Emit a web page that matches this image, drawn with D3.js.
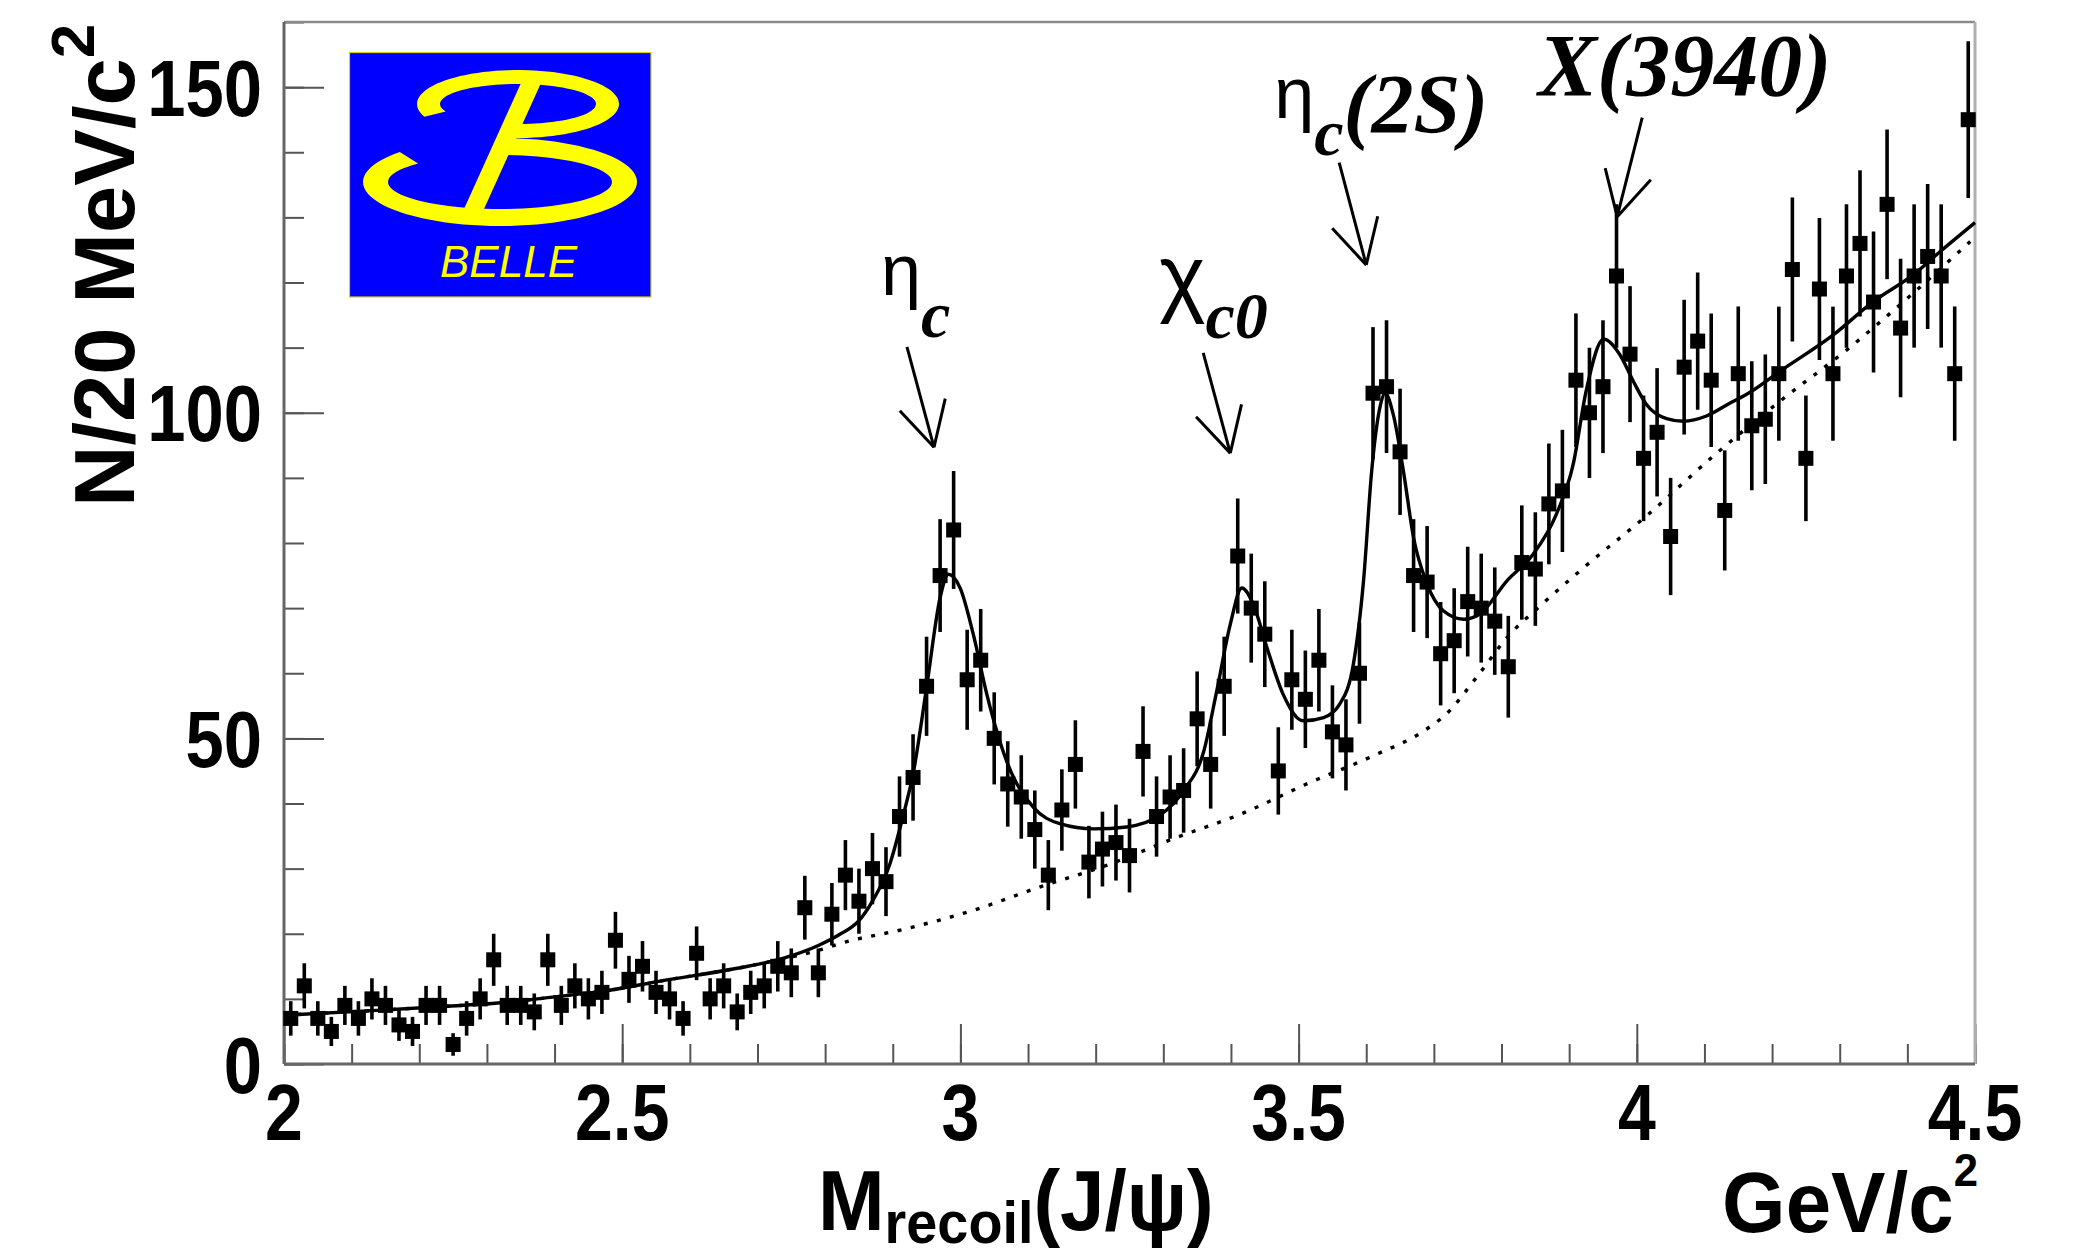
<!DOCTYPE html>
<html>
<head>
<meta charset="utf-8">
<script src="https://cdn.jsdelivr.net/npm/d3@7"></script>
<style>
  html, body { margin: 0; padding: 0; background: #ffffff; }
  svg { display: block; }
</style>
</head>
<body>
<svg id="chart" width="2074" height="1257"></svg>
<script>
// ---- data -------------------------------------------------------------
// recoil-mass histogram: 125 bins of 20 MeV/c^2 starting at 2.0 GeV/c^2
const massLow = 2.0;
const binWidth = 0.02;
const counts = [
  7, 12, 7, 5, 9, 7, 10, 9, 6, 5, 9, 9, 3, 7, 10, 16, 9, 9, 8, 16, 9,
  12, 10, 11, 19, 13, 15, 11, 10, 7, 17, 10, 12, 8, 11, 12, 15, 14, 24, 14, 23, 29, 25, 30, 28,
  38, 44, 58, 75, 82, 59, 62, 50, 43, 41, 36, 29, 39, 46, 31, 33, 34, 32, 48, 38, 41,
  42, 53, 46, 58, 78, 70, 66, 45, 59, 56, 62, 51, 49, 60, 103, 104, 94, 75, 74, 63, 65, 71,
  70, 68, 61, 77, 76, 86, 88, 105, 100, 104, 121, 109, 93, 97, 81, 107, 111, 105, 85,
  106, 98, 99, 106, 122, 93, 119, 106, 121, 126, 117, 132, 113, 121, 124, 121, 106, 145
];

// total fit (signal peaks + background)
const fitMass = [
  2.00, 2.13, 2.23, 2.32, 2.40, 2.48, 2.56, 2.67, 2.74, 2.79, 2.82, 2.85, 2.87, 2.896, 2.916,
  2.930, 2.950, 2.970, 2.982, 3.000, 3.019, 3.039, 3.068, 3.108, 3.147, 3.197, 3.246, 3.295,
  3.330, 3.360, 3.379, 3.399, 3.416, 3.433, 3.453, 3.477, 3.507, 3.537, 3.561, 3.581, 3.596,
  3.608, 3.620, 3.628, 3.640, 3.655, 3.670, 3.690, 3.714, 3.744, 3.768, 3.808, 3.847, 3.881,
  3.906, 3.925, 3.951, 3.975, 3.995, 4.014, 4.044, 4.069, 4.103, 4.138, 4.165, 4.212, 4.291,
  4.350, 4.409, 4.449, 4.500
];
const fitValue = [
  7.5, 8.2, 8.8, 9.4, 10.3, 11.3, 12.8, 14.7, 16.3, 18.2, 19.8, 22.0, 25.0, 30.8, 38.4,
  44.5, 57.8, 71.6, 75.2, 73.0, 66.0, 56.8, 46.6, 39.4, 36.9, 36.1, 36.4, 38.2,
  42.0, 48.1, 57.3, 67.5, 73.1, 70.6, 64.0, 56.8, 52.7, 53.2, 55.3, 61.4, 74.2,
  91.0, 100.7, 103.0, 99.7, 91.0, 80.8, 73.7, 69.6, 68.3, 69.1, 74.2, 78.3, 84.4,
  92.1, 103.3, 111.3, 108.9, 104.8, 101.3, 99.1, 98.7, 99.5, 101.5, 103.0, 106.4, 112.0,
  117.1, 121.2, 124.8, 129.2
];

// background component of the fit
const bkgMass = [
  2.00, 2.13, 2.23, 2.32, 2.40, 2.48, 2.56, 2.67, 2.74, 2.795, 2.822, 2.921, 3.019, 3.118,
  3.216, 3.315, 3.415, 3.514, 3.612, 3.686, 3.721, 3.761, 3.810, 3.860, 3.919, 4.017, 4.116,
  4.212, 4.311, 4.409, 4.493
];
const bkgValue = [
  7.5, 8.2, 8.8, 9.4, 10.3, 11.3, 12.8, 14.7, 16.2, 17.6, 18.5, 20.8, 23.6, 27.2,
  30.5, 34.6, 38.4, 43.1, 47.4, 51.2, 54.0, 59.1, 65.7, 70.6, 76.0, 84.4, 93.6,
  101.8, 109.7, 118.4, 126.3
];

// axes
const xTickValues = [2, 2.5, 3, 3.5, 4, 4.5];
const xTickLabels = ["2", "2.5", "3", "3.5", "4", "4.5"];
const yTickValues = [0, 50, 100, 150];
const yTickLabels = ["0", "50", "100", "150"];

// peak annotations: arrow tail and tip in (mass, entries)
const peakNames = ["ηc", "χc0", "ηc(2S)", "X(3940)"];
const arrowTail = [[2.921, 110.1], [3.359, 109.2], [3.560, 138.4], [4.008, 145.3]];
const arrowTip  = [[2.961, 94.7], [3.399, 93.8], [3.600, 122.7], [3.971, 130.1]];

// ---- drawing ----------------------------------------------------------
const svg = d3.select("#chart");
const X0 = 284, X1 = 1975, Y0 = 1064, Y1 = 22;
const x = d3.scaleLinear().domain([2, 4.5]).range([X0, X1]);
const y = d3.scaleLinear().domain([0, 160]).range([Y0, Y1]);

const SANS = "'Liberation Sans', Arial, Helvetica, sans-serif";
const SERIF = "'Liberation Serif', 'Times New Roman', serif";

// Belle logo
const logo = svg.append("g");
logo.append("rect")
  .attr("x", 349.5).attr("y", 52.5).attr("width", 301.5).attr("height", 244.5)
  .attr("fill", "#0000ff").attr("stroke", "#d8d800").attr("stroke-width", 1.2);

function ringArc(cx, cy, rxo, ryo, rxi, ryi, t0, t1) {
  const n = 80, pts = [];
  for (let i = 0; i <= n; i++) {
    const t = (t0 + (t1 - t0) * i / n) * Math.PI / 180;
    pts.push([cx + rxo * Math.cos(t), cy + ryo * Math.sin(t)]);
  }
  for (let i = n; i >= 0; i--) {
    const t = (t0 + (t1 - t0) * i / n) * Math.PI / 180;
    pts.push([cx + rxi * Math.cos(t), cy + ryi * Math.sin(t)]);
  }
  return "M" + pts.map(p => p[0].toFixed(1) + "," + p[1].toFixed(1)).join("L") + "Z";
}
logo.append("path").attr("d", ringArc(518, 104, 101, 34, 78, 20, 158, 452)).attr("fill", "#ffff00");
logo.append("path").attr("d", ringArc(500, 182, 137, 44, 112, 27, 223, -90)).attr("fill", "#ffff00");
logo.append("path").attr("d", "M521,83L541,83L484,209L464,209Z").attr("fill", "#ffff00");
logo.append("text")
  .attr("x", 440).attr("y", 277)
  .attr("font-family", SANS).attr("font-style", "italic").attr("font-size", 44)
  .attr("fill", "#ffff00").text("BELLE");

// ticks (drawn inward)
const tickStyle = g => {
  g.select(".domain").remove();
  g.selectAll("line").attr("stroke", "#555").attr("stroke-width", 2);
  g.selectAll("text").remove();
};
svg.append("g").attr("transform", `translate(0,${Y0})`)
  .call(d3.axisBottom(x).tickValues(d3.range(2, 4.501, 0.1)).tickSizeInner(-20).tickSizeOuter(0))
  .call(tickStyle);
svg.append("g").attr("transform", `translate(0,${Y0})`)
  .call(d3.axisBottom(x).tickValues(xTickValues).tickSizeInner(-40).tickSizeOuter(0))
  .call(tickStyle);
svg.append("g").attr("transform", `translate(${X0},0)`)
  .call(d3.axisLeft(y).tickValues(d3.range(0, 160.1, 10)).tickSizeInner(-20).tickSizeOuter(0))
  .call(tickStyle);
svg.append("g").attr("transform", `translate(${X0},0)`)
  .call(d3.axisLeft(y).tickValues(yTickValues).tickSizeInner(-40).tickSizeOuter(0))
  .call(tickStyle);

// frame
svg.append("line").attr("x1", X0).attr("x2", X1).attr("y1", Y1).attr("y2", Y1)
  .attr("stroke", "#8a8a8a").attr("stroke-width", 2.5);
svg.append("line").attr("x1", X1).attr("x2", X1).attr("y1", Y1).attr("y2", Y0)
  .attr("stroke", "#b0b0b0").attr("stroke-width", 3);
svg.append("line").attr("x1", X0).attr("x2", X0).attr("y1", Y1).attr("y2", Y0)
  .attr("stroke", "#666").attr("stroke-width", 3);
svg.append("line").attr("x1", X0).attr("x2", X1).attr("y1", Y0).attr("y2", Y0)
  .attr("stroke", "#666").attr("stroke-width", 3);

// tick labels
svg.append("g").selectAll("text").data(xTickValues).join("text")
  .attr("transform", d => `translate(${x(d)},1140) scale(0.85,1)`)
  .attr("text-anchor", "middle")
  .attr("font-family", SANS).attr("font-weight", "bold").attr("font-size", 80)
  .attr("fill", "#000")
  .text((d, i) => xTickLabels[i]);
svg.append("g").selectAll("text").data(yTickValues).join("text")
  .attr("transform", d => `translate(262,${y(d) + 28.5}) scale(0.86,1)`)
  .attr("text-anchor", "end")
  .attr("font-family", SANS).attr("font-weight", "bold").attr("font-size", 80)
  .attr("fill", "#000")
  .text((d, i) => yTickLabels[i]);

// axis titles
const yTitle = svg.append("text")
  .attr("transform", "translate(134,507) rotate(-90)")
  .attr("font-family", SANS).attr("font-weight", "bold").attr("font-size", 85).attr("fill", "#000");
yTitle.append("tspan").text("N/20 MeV/c");
yTitle.append("tspan").attr("font-size", 62).attr("dy", -40).text("2");

const xTitle = svg.append("text")
  .attr("transform", "translate(818,1230) scale(0.93,1)")
  .attr("font-family", SANS).attr("font-weight", "bold").attr("font-size", 86).attr("fill", "#000");
xTitle.append("tspan").text("M");
xTitle.append("tspan").attr("font-size", 60).attr("dy", 13).text("recoil");
xTitle.append("tspan").attr("dy", -13).text("(J/ψ)");

const unitTitle = svg.append("text")
  .attr("transform", "translate(1978,1232) scale(0.95,1)")
  .attr("text-anchor", "end")
  .attr("font-family", SANS).attr("font-weight", "bold").attr("font-size", 86).attr("fill", "#000");
unitTitle.append("tspan").text("GeV/c");
unitTitle.append("tspan").attr("font-size", 46).attr("dy", -46).text("2");

// fit curves
const plot = svg.append("g");
plot.append("path")
  .datum(bkgMass.map((m, i) => [m, bkgValue[i]]))
  .attr("d", d3.line().x(d => x(d[0])).y(d => y(d[1])).curve(d3.curveMonotoneX))
  .attr("fill", "none").attr("stroke", "#000").attr("stroke-width", 3.4)
  .attr("stroke-dasharray", "4 9.5");
plot.append("path")
  .datum(fitMass.map((m, i) => [m, fitValue[i]]))
  .attr("d", d3.line().x(d => x(d[0])).y(d => y(d[1])).curve(d3.curveMonotoneX))
  .attr("fill", "none").attr("stroke", "#000").attr("stroke-width", 3.4);

// data points with Poisson errors
const points = counts.map((n, i) => ({ m: massLow + binWidth * (i + 0.5), n: n, e: Math.sqrt(n) }));
plot.append("g").selectAll("line").data(points).join("line")
  .attr("x1", d => x(d.m)).attr("x2", d => x(d.m))
  .attr("y1", d => y(d.n - d.e)).attr("y2", d => y(d.n + d.e))
  .attr("stroke", "#000").attr("stroke-width", 3.6);
plot.append("g").selectAll("rect").data(points).join("rect")
  .attr("x", d => x(d.m) - 7.5).attr("y", d => y(d.n) - 7.5)
  .attr("width", 15).attr("height", 15).attr("fill", "#000");

// peak annotations
const runStyle = {
  greek: { family: SANS, size: 72, weight: "normal", style: "normal" },
  chi:   { family: SANS, size: 88, weight: "normal", style: "normal" },
  sub:   { family: SERIF, size: 66, weight: "bold", style: "italic" },
  main:  { family: SERIF, size: 84, weight: "bold", style: "italic" },
  big:   { family: SERIF, size: 88, weight: "bold", style: "italic" }
};
const labelLayout = [
  { dx: -26, dy: -52, runs: [["η", "greek", 0], ["c", "sub", 42]] },
  { dx: -44, dy: -47, runs: [["χ", "chi", 0], ["c0", "sub", 32]] },
  { dx: -65, dy: -45, runs: [["η", "greek", 0], ["c", "sub", 37], ["(2S)", "main", -22]] },
  { dx: -104, dy: -23, runs: [["X(3940)", "big", 0]] }
];
const ann = svg.append("g");
peakNames.forEach((name, i) => {
  const tx = x(arrowTail[i][0]), ty = y(arrowTail[i][1]);
  const hx = x(arrowTip[i][0]), hy = y(arrowTip[i][1]);
  ann.append("line").attr("x1", tx).attr("y1", ty).attr("x2", hx).attr("y2", hy)
    .attr("stroke", "#000").attr("stroke-width", 3);
  const back = Math.atan2(ty - hy, tx - hx);
  [-0.49, 0.49].forEach(a => {
    ann.append("line").attr("x1", hx).attr("y1", hy)
      .attr("x2", hx + 50 * Math.cos(back + a)).attr("y2", hy + 50 * Math.sin(back + a))
      .attr("stroke", "#000").attr("stroke-width", 3);
  });
  const lay = labelLayout[i];
  const t = ann.append("text").attr("x", tx + lay.dx).attr("y", ty + lay.dy).attr("fill", "#000");
  lay.runs.forEach(([s, k, shift]) => {
    const st = runStyle[k];
    t.append("tspan").attr("dy", shift)
      .attr("font-family", st.family).attr("font-size", st.size)
      .attr("font-weight", st.weight).attr("font-style", st.style).text(s);
  });
});
</script>
</body>
</html>
